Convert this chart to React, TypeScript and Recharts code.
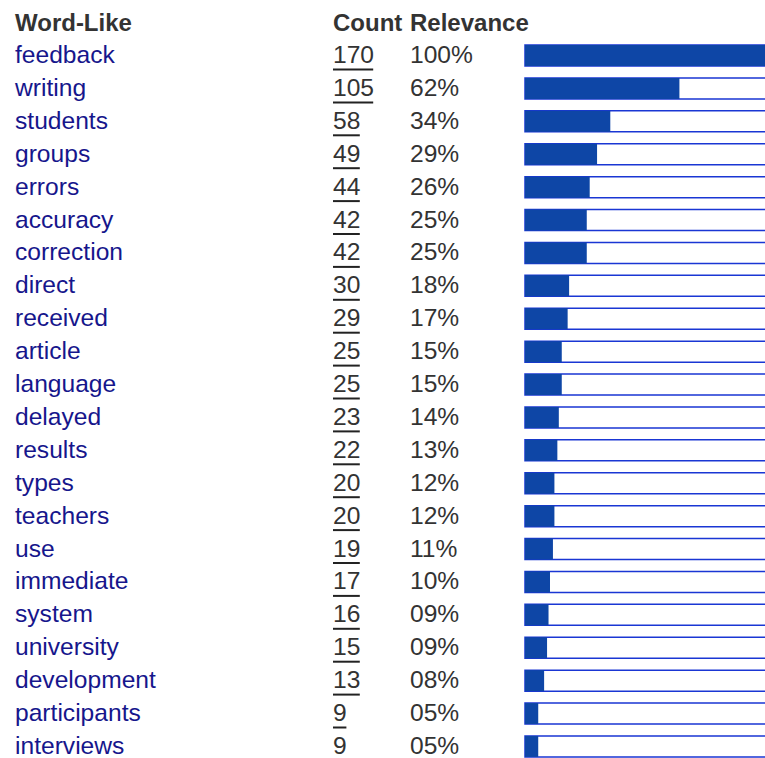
import React from 'react';
import { BarChart, Bar, XAxis, YAxis } from 'recharts';

const words = ['feedback', 'writing', 'students', 'groups', 'errors', 'accuracy', 'correction', 'direct', 'received', 'article', 'language', 'delayed', 'results', 'types', 'teachers', 'use', 'immediate', 'system', 'university', 'development', 'participants', 'interviews'];
const counts = [170, 105, 58, 49, 44, 42, 42, 30, 29, 25, 25, 23, 22, 20, 20, 19, 17, 16, 15, 13, 9, 9];
const relevance = ['100%', '62%', '34%', '29%', '26%', '25%', '25%', '18%', '17%', '15%', '15%', '14%', '13%', '12%', '12%', '11%', '10%', '09%', '09%', '08%', '05%', '05%'];
const linked = [true, true, true, true, true, true, true, true, true, true, true, true, true, true, true, true, true, true, true, true, true, false];

const FONT = '"Liberation Sans", Arial, Helvetica, sans-serif';
const FILL = '#0e46a6';
const BORDER = '#1a36d4';

const data = words.map((w, i) => ({ word: w, count: counts[i], rel: relevance[i], linked: linked[i] }));

const RowTick = (props: any) => {
  const { y, payload } = props;
  const row = data[payload.index];
  const base = y + 7.5;
  const countText = String(row.count);
  return (
    <g fontFamily={FONT} fontSize={24.6}>
      <text x={15} y={base} fill="#16168c">{row.word}</text>
      <text x={333} y={base} fill="#333">{countText}</text>
      {row.linked && (
        <line x1={333} x2={333 + countText.length * 13.4} y1={y + 14} y2={y + 14} stroke="#222" strokeWidth={2} />
      )}
      <text x={410} y={base} fill="#333">{row.rel}</text>
    </g>
  );
};

export default function App() {
  return (
    <div style={{ position: 'absolute', left: 0, top: 0, width: 765, height: 758, overflow: 'hidden', background: '#fff' }}>
      <svg width={765} height={40} style={{ position: 'absolute', left: 0, top: 0 }}>
        <g fontFamily={FONT} fontSize={24} fontWeight="bold" fill="#333">
          <text x={15} y={31}>Word-Like</text>
          <text x={333} y={31}>Count</text>
          <text x={410} y={31}>Relevance</text>
        </g>
      </svg>
      <div style={{ position: 'absolute', left: 0, top: 0 }}>
        <BarChart
          width={775}
          height={770}
          data={data}
          layout="vertical"
          margin={{ top: 39.05, right: 0, bottom: 7.15, left: 0 }}
          barCategoryGap={0}
        >
          <XAxis type="number" domain={[0, 170]} hide />
          <YAxis
            type="category"
            dataKey="word"
            width={525}
            axisLine={false}
            tickLine={false}
            interval={0}
            tick={<RowTick />}
          />
          <Bar
            dataKey="count"
            fill={FILL}
            barSize={21}
            isAnimationActive={false}
            background={{ fill: '#fff', stroke: BORDER, strokeWidth: 1.5 }}
          />
        </BarChart>
      </div>
    </div>
  );
}
